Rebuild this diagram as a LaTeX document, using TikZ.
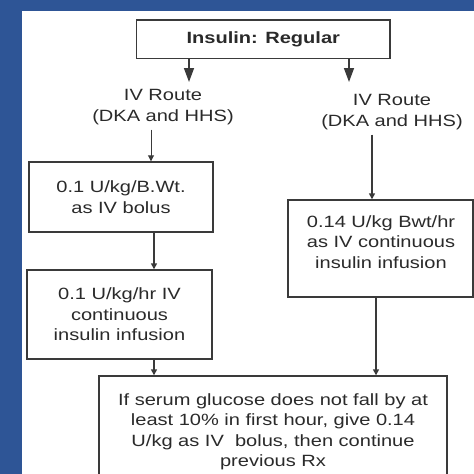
\documentclass[tikz,border=0pt]{standalone}
\usepackage{fontspec}
\setmainfont{Liberation Sans}[FakeStretch=1.23]
\usetikzlibrary{arrows.meta}
\definecolor{bgblue}{HTML}{2E5596}
\definecolor{ink}{HTML}{2A2A2A}
\definecolor{edge}{HTML}{3A3A3A}
\tikzset{
  boxnode/.style={draw=edge, line width=1.4pt, fill=white, rectangle, inner sep=0pt},
  txt/.style={text=ink, align=center, font=\fontsize{16.3}{20.5}\selectfont, inner sep=0pt},
  bigarr/.style={draw=edge, line width=1.4pt, -{Triangle[length=14pt,width=10pt]}},
  smallarr/.style={draw=edge, line width=1.4pt, -{Triangle[length=6pt,width=6pt]}},
  thinarr/.style={draw=edge, line width=0.9pt, -{Triangle[length=6pt,width=6pt]}}
}
\begin{document}
\begin{tikzpicture}[x=1pt,y=-1pt]
\useasboundingbox (0,0) rectangle (474,474);
\clip (0,0) rectangle (474,474);
\fill[bgblue] (0,0) rectangle (474,474);
\fill[white] (21.5,11) rectangle (476,476);

% top box
\node[boxnode, txt, minimum width=253.5pt, minimum height=38.5pt, font=\fontsize{16.3}{20.5}\selectfont\bfseries] (top) at (263.3,39.3) {Insulin: Regular};

% labels
\node[txt] (lab1) at (163,107) {IV Route\\(DKA and HHS)};
\node[txt] (lab2) at (392,112) {IV Route\\(DKA and HHS)};

% boxes
\node[boxnode, txt, minimum width=184pt, minimum height=70pt] (b1) at (121,197) {0.1 U/kg/B.Wt.\\as IV bolus};
\node[boxnode, txt, minimum width=185pt, minimum height=89pt] (b2) at (119.5,314.5) {0.1 U/kg/hr IV\\continuous\\insulin infusion};
\node[boxnode, minimum width=185pt, minimum height=97pt] (r1) at (380.5,248.5) {};
\node[txt] (r1t) at (381,242) {0.14 U/kg Bwt/hr\\as IV continuous\\insulin infusion};
\node[boxnode, minimum width=348pt, minimum height=150pt] (fin) at (273,451) {};
\node[txt] (fint) at (273,432) {If serum glucose does not fall by at\\least 10\% in first hour, give 0.14\\U/kg as IV\ \ bolus, then continue\\previous Rx};

% connector columns
\coordinate (xa) at (189,82);
\coordinate (xb) at (349,82);
\coordinate (xc) at (151,0);
\coordinate (xd) at (154,0);
\coordinate (xe) at (372,0);
\coordinate (xf) at (376,0);

\draw[bigarr] (top.south -| xa) -- (xa);
\draw[bigarr] (top.south -| xb) -- (xb);
\draw[thinarr] (lab1.south -| xc) ++(0,5) -- (b1.north -| xc);
\draw[smallarr] (lab2.south -| xe) ++(0,5) -- (r1.north -| xe);
\draw[smallarr] (b1.south -| xd) -- (b2.north -| xd);
\draw[smallarr] (b2.south -| xd) -- (fin.north -| xd);
\draw[smallarr] (r1.south -| xf) -- (fin.north -| xf);
\end{tikzpicture}
\end{document}
